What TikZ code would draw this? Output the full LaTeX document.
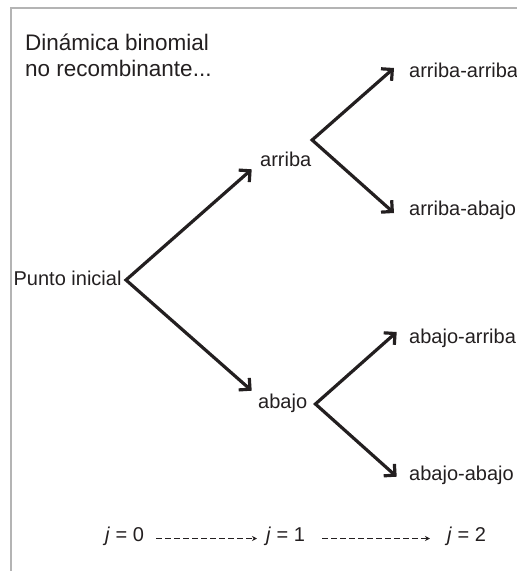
\documentclass[tikz,border=0pt]{standalone}
\usepackage{fontspec}
\setmainfont{Liberation Sans}
\usetikzlibrary{arrows.meta}
\definecolor{ink}{HTML}{231F20}
\definecolor{framegray}{HTML}{B4B4B4}
\tikzset{
  lbl/.style={inner sep=0pt, anchor=base west, text=ink, font=\fontsize{20}{24}\selectfont},
  branch/.style={draw=ink, line width=3.2pt, line join=miter,
    arrows={Straight Barb[length=8pt,width=16pt]-Straight Barb[length=8pt,width=16pt]}},
  stepline/.style={draw=ink, line width=1pt, dash pattern=on 5.5pt off 3.5pt,
    -{Stealth[length=5pt,width=5pt]}}
}
\begin{document}
\begin{tikzpicture}[x=1pt,y=-1pt]
\useasboundingbox (0,0) rectangle (517,571);
% frame
\draw[framegray, line width=2pt] (10.5,571) -- (10.5,7.5) -- (517,7.5);
% title
\node[inner sep=0pt, anchor=north west, align=left, text=ink,
      font=\fontsize{22.5}{25.5}\selectfont] (title) at (25,34) {Dinámica binomial\\no recombinante...};
% nodes
\node[lbl, anchor=base east] (p) at (121.7,285) {Punto inicial};
\node[lbl] (u) at (260,166) {arriba};
\node[lbl] (d) at (258,408) {abajo};
\node[lbl] (uu) at (409,77) {arriba-arriba};
\node[lbl] (ud) at (409,215) {arriba-abajo};
\node[lbl] (du) at (409,343) {abajo-arriba};
\node[lbl] (dd) at (409,480) {abajo-abajo};
\node[lbl] (j0) at (105,541) {\textit{j} = 0};
\node[lbl] (j1) at (266,541) {\textit{j} = 1};
\node[lbl] (j2) at (447,541) {\textit{j} = 2};
% branches
\draw[branch] ([shift={(-8.3,3.3)}]u.base west) -- ([shift={(4.3,-5)}]p.base east) -- ([shift={(-6.3,-17.3)}]d.base west);
\draw[branch] ([shift={(-15,-9)}]uu.base west) -- ([shift={(0.6,-26)}]u.base east) -- ([shift={(-15,-2)}]ud.base west);
\draw[branch] ([shift={(-12.3,-11)}]du.base west) -- ([shift={(8.1,-4)}]d.base east) -- ([shift={(-12.3,-3.3)}]dd.base west);
% time steps
\draw[stepline] ([shift={(12,-2.5)}]j0.base east) -- ([shift={(-9,-2.5)}]j1.base west);
\draw[stepline] ([shift={(17,-2.5)}]j1.base east) -- ([shift={(-17,-2.5)}]j2.base west);
\end{tikzpicture}
\end{document}
